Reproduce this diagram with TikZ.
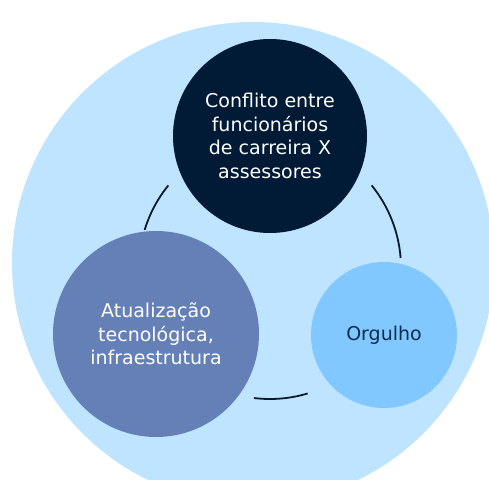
\documentclass[tikz,border=0pt]{standalone}
\usepackage{fontspec}
\setmainfont{DejaVu Sans}
\usepackage{tikz}
\usetikzlibrary{calc}
\definecolor{hell}{HTML}{BFE4FF}
\definecolor{nacht}{HTML}{011A35}
\definecolor{mittel}{HTML}{6480B7}
\definecolor{himmel}{HTML}{80C8FF}
\definecolor{linie}{HTML}{0A1A2C}
\definecolor{schrift}{HTML}{0B2E4F}
\tikzset{
  kreis/.style={circle,inner sep=0pt,draw=none,align=center,font=\fontsize{19}{23.7}\selectfont},
  bogen/.style={linie,line width=1.8pt},
}

\begin{document}
\begin{tikzpicture}[x=1pt,y=1pt]
  \useasboundingbox (0,0) rectangle (489,479);
  % --- Hintergrund ---
  \node[kreis,fill=hell,minimum size=482pt] (fundo) at (253,216) {};
  % --- Zyklus ---
  \coordinate (ctr) at (270,211);
  \draw[bogen] ($(ctr)+(140.9:131)$) arc[start angle=140.9,end angle=163.1,radius=131];
  \draw[bogen] ($(ctr)+(39.1:131)$) arc[start angle=39.1,end angle=4.4,radius=131];
  \draw[bogen] ($(ctr)+(263:131)$) arc[start angle=263,end angle=286.7,radius=131];
  % --- Elemente ---
  \node[kreis,fill=nacht,text=white,minimum size=194pt] (conflito) at (270,343)
    {Conflito entre\\funcionários\\de carreira X\\assessores};
  \node[kreis,fill=mittel,text=white,minimum size=206pt] (atualiz) at (156,145)
    {Atualização\\tecnológica,\\infraestrutura};
  \node[kreis,fill=himmel,text=schrift,minimum size=146pt] (orgulho) at (384,144)
    {Orgulho};
\end{tikzpicture}
\end{document}
